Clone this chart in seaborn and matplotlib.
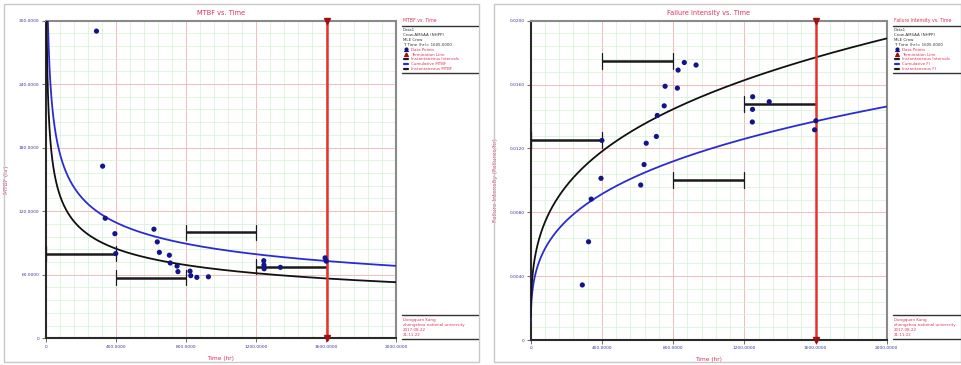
import numpy as np
import pandas as pd
import matplotlib
matplotlib.use("Agg")
import matplotlib.pyplot as plt
from matplotlib.lines import Line2D
from matplotlib.patches import Rectangle
from matplotlib.ticker import MultipleLocator, FuncFormatter
import seaborn as sns

# ---- data -------------------------------------------------------------
# failure times (hr)
failure_times = [290, 325, 340, 395, 400, 618, 637, 649, 706, 711, 750,
                 755, 824, 828, 863, 929, 1245, 1246, 1247, 1340, 1595, 1602]
# cumulative MTBF at each failure (hr)
cum_mtbf_pts = [290.0, 162.5, 113.33, 98.75, 80.0, 103.0, 91.0, 81.13, 78.44,
                71.1, 68.18, 62.92, 63.38, 59.14, 57.53, 58.06, 73.24, 69.22,
                65.63, 67.0, 75.95, 72.82]
# cumulative failure intensity at each failure (failures/hr)
cum_fi_pts = [0.003448, 0.006154, 0.008824, 0.010127, 0.0125, 0.009709,
              0.010989, 0.012327, 0.012748, 0.014065, 0.014667, 0.015894,
              0.015777, 0.016908, 0.017381, 0.017223, 0.013655, 0.014446,
              0.015237, 0.014925, 0.013166, 0.013733]

# instantaneous intervals
interval_start = [0, 400, 800, 1200]
interval_end = [400, 800, 1200, 1605]
interval_mtbf = [80.0, 57.14, 100.0, 67.5]
interval_fi = [0.0125, 0.0175, 0.0100, 0.01481]

# Crow-AMSAA (NHPP) MLE parameters and termination time
beta = 1.2918
lam = 0.0015914
term_time = 1605.0

x_ticks = [0, 400, 800, 1200, 1600, 2000]
mtbf_ticks = [0, 60, 120, 180, 240, 300]
fi_ticks = [0, 0.004, 0.008, 0.012, 0.016, 0.020]

# ---- style --------------------------------------------------------------
sns.set_theme(style="white")
plt.rcParams["font.family"] = ["DejaVu Sans"]

RED_TXT = "#e0305a"
TICK_TXT = "#3a3aa0"
BLUE = "#2b2bd6"
NAVY = "#14148a"
TERM = "#e8332c"
TERM_DARK = "#a01010"

W, H = 962, 365
fig = plt.figure(figsize=(W / 100, H / 100), dpi=100)


def fx(px):
    return px / W


def fy(py):
    return 1 - py / H


# panel frames
for x0, x1 in [(4, 479), (494, 961)]:
    fig.patches.append(Rectangle((fx(x0), fy(362)), fx(x1 - x0), (362 - 4) / H,
                                 transform=fig.transFigure, fill=False,
                                 edgecolor="#c8c8c8", lw=1.0))

t = np.linspace(0.3, 2000, 4000)
cum_fi_curve = lam * t ** (beta - 1)
curves = pd.DataFrame({
    "t": t,
    "cum_mtbf": 1.0 / cum_fi_curve,
    "inst_mtbf": 1.0 / (beta * cum_fi_curve),
    "cum_fi": cum_fi_curve,
    "inst_fi": beta * cum_fi_curve,
})
points = pd.DataFrame({"t": failure_times, "mtbf": cum_mtbf_pts, "fi": cum_fi_pts})


def style_axes(ax, ymax, ystep, yfmt):
    ax.set_xlim(0, 2000)
    ax.set_ylim(0, ymax)
    ax.xaxis.set_major_locator(MultipleLocator(400))
    ax.xaxis.set_minor_locator(MultipleLocator(80))
    ax.yaxis.set_major_locator(MultipleLocator(ystep))
    ax.yaxis.set_minor_locator(MultipleLocator(ystep / 5))
    ax.grid(which="minor", color="#d2f2d2", lw=0.5)
    ax.grid(which="major", color="#f5b0b0", lw=0.6)
    ax.set_axisbelow(True)
    ax.xaxis.set_major_formatter(FuncFormatter(lambda v, p: "0" if v == 0 else f"{v:.4f}"))
    ax.yaxis.set_major_formatter(FuncFormatter(yfmt))
    ax.tick_params(which="major", labelsize=3.2, labelcolor=TICK_TXT, length=3,
                   width=0.6, color="#555555", pad=1.5, bottom=True, left=True)
    ax.tick_params(which="minor", length=0)
    for s in ["left", "bottom"]:
        ax.spines[s].set_color("#2a2a2a")
        ax.spines[s].set_linewidth(1.5)
    for s in ["top", "right"]:
        ax.spines[s].set_color("#8a8a8a")
        ax.spines[s].set_linewidth(1.5)


def draw_intervals(ax, yvals, tick_half):
    for a, b, v in zip(interval_start, interval_end, yvals):
        ax.plot([a, b], [v, v], color="#1a1a1a", lw=1.8, solid_capstyle="butt", zorder=3)
        for e in (a, b):
            ax.plot([e, e], [v - tick_half, v + tick_half], color="#1a1a1a", lw=0.9, zorder=3)


def draw_termination(ax, ymax):
    ax.axvline(term_time, color=TERM, lw=1.8, zorder=4)
    ax.plot([term_time, term_time], [ymax, 0], ls="none", marker="v", ms=4.5,
            color=TERM_DARK, clip_on=False, zorder=6)


def draw_legend(x0, x1, title, entries):
    fig.text(fx(x0 + 1), fy(23), title, color=RED_TXT, fontsize=3.3, va="bottom")
    fig.add_artist(Line2D([fx(x0), fx(x1)], [fy(25.5), fy(25.5)], color="#333333", lw=1.0))
    head = ["Data1", "Crow-AMSAA (NHPP)", "MLE Crow", f"T: Time (hr)= {term_time:.4f}"]
    y = 30.0
    for s in head:
        fig.text(fx(x0 + 1), fy(y), s, color="#333333", fontsize=2.9, va="center")
        y += 4.9
    for label, kind, col in entries:
        if kind == "dot":
            fig.add_artist(Line2D([fx(x0 + 4)], [fy(y - 0.8)], marker="o", ms=2.0,
                                  color=col, ls="none"))
            fig.add_artist(Line2D([fx(x0 + 2), fx(x0 + 6)], [fy(y + 1)] * 2, color=col, lw=0.8))
        elif kind == "tri":
            fig.add_artist(Line2D([fx(x0 + 4)], [fy(y - 0.8)], marker="^", ms=2.2,
                                  color=col, ls="none"))
            fig.add_artist(Line2D([fx(x0 + 2), fx(x0 + 6)], [fy(y + 1)] * 2, color=col, lw=0.8))
        else:
            fig.add_artist(Line2D([fx(x0 + 2), fx(x0 + 6.5)], [fy(y)] * 2, color=col, lw=1.6))
        fig.text(fx(x0 + 9), fy(y), label, color=RED_TXT, fontsize=2.9, va="center")
        y += 4.9
    fig.add_artist(Line2D([fx(x0), fx(x1)], [fy(y - 1.5), fy(y - 1.5)], color="#333333", lw=1.0))


def draw_footer(x0, x1):
    fig.add_artist(Line2D([fx(x0), fx(x1)], [fy(315), fy(315)], color="#333333", lw=1.0))
    fig.add_artist(Line2D([fx(x0), fx(x1)], [fy(338.5), fy(338.5)], color="#333333", lw=1.0))
    lines = ["Dongquan Kang", "zhengzhou national university", "2017-08-22", "21:11:22"]
    y = 319.5
    for s in lines:
        fig.text(fx(x0 + 1), fy(y), s, color=RED_TXT, fontsize=2.9, va="center")
        y += 5.2


# ---- left: MTBF vs. Time -------------------------------------------------
ax1_left, ax1_right, ax1_top, ax1_bot = 45.7, 396.0, 20.5, 338.3
ax1 = fig.add_axes([fx(ax1_left), fy(ax1_bot), fx(ax1_right - ax1_left), (ax1_bot - ax1_top) / H])
style_axes(ax1, 300, 60, lambda v, p: "0" if v == 0 else f"{v:.4f}")
ax1.set_yticks(mtbf_ticks)
ax1.set_xticks(x_ticks)
sns.lineplot(data=curves, x="t", y="cum_mtbf", ax=ax1, color=BLUE, lw=1.3,
             errorbar=None, legend=False, zorder=3)
sns.lineplot(data=curves, x="t", y="inst_mtbf", ax=ax1, color="#111111", lw=1.3,
             errorbar=None, legend=False, zorder=3)
draw_intervals(ax1, interval_mtbf, 7)
draw_termination(ax1, 300)
sns.scatterplot(data=points, x="t", y="mtbf", ax=ax1, color=NAVY, s=14,
                edgecolor="none", zorder=5, legend=False)
ax1.set_xlabel("Time (hr)", color=RED_TXT, fontsize=4.2)
ax1.set_ylabel("MTBF (hr)", color=RED_TXT, fontsize=4.2)
ax1.xaxis.set_label_coords(0.5, -(356 - ax1_bot) / (ax1_bot - ax1_top))
ax1.yaxis.set_label_coords(-(ax1_left - 9) / (ax1_right - ax1_left), 0.5)
ax1.set_title("MTBF vs. Time", color=RED_TXT, fontsize=4.8, pad=4)

draw_legend(402, 478, "MTBF vs. Time", [
    ("Data Points", "dot", NAVY),
    ("Termination Line", "tri", TERM_DARK),
    ("Instantaneous Intervals", "line", "#1a1a1a"),
    ("Cumulative MTBF", "line", BLUE),
    ("Instantaneous MTBF", "line", "#1a1a1a"),
])
draw_footer(402, 478)

# ---- right: Failure Intensity vs. Time ------------------------------------
ax2_left, ax2_right, ax2_top, ax2_bot = 530.7, 886.7, 20.7, 340.0
ax2 = fig.add_axes([fx(ax2_left), fy(ax2_bot), fx(ax2_right - ax2_left), (ax2_bot - ax2_top) / H])
style_axes(ax2, 0.02, 0.004, lambda v, p: "0" if v == 0 else f"{v:.4f}")
ax2.set_yticks(fi_ticks)
ax2.set_xticks(x_ticks)
sns.lineplot(data=curves, x="t", y="cum_fi", ax=ax2, color=BLUE, lw=1.3,
             errorbar=None, legend=False, zorder=3)
sns.lineplot(data=curves, x="t", y="inst_fi", ax=ax2, color="#111111", lw=1.3,
             errorbar=None, legend=False, zorder=3)
draw_intervals(ax2, interval_fi, 0.0005)
draw_termination(ax2, 0.02)
sns.scatterplot(data=points, x="t", y="fi", ax=ax2, color=NAVY, s=14,
                edgecolor="none", zorder=5, legend=False)
ax2.set_xlabel("Time (hr)", color=RED_TXT, fontsize=4.2)
ax2.set_ylabel("Failure Intensity (Failures/hr)", color=RED_TXT, fontsize=4.2)
ax2.xaxis.set_label_coords(0.5, -(357.5 - ax2_bot) / (ax2_bot - ax2_top))
ax2.yaxis.set_label_coords(-(ax2_left - 498) / (ax2_right - ax2_left), 0.5)
ax2.set_title("Failure Intensity vs. Time", color=RED_TXT, fontsize=4.8, pad=4)

draw_legend(893, 962, "Failure Intensity vs. Time", [
    ("Data Points", "dot", NAVY),
    ("Termination Line", "tri", TERM_DARK),
    ("Instantaneous Intervals", "line", "#1a1a1a"),
    ("Cumulative FI", "line", BLUE),
    ("Instantaneous FI", "line", "#1a1a1a"),
])
draw_footer(893, 962)

fig.savefig("out.png", dpi=100)
